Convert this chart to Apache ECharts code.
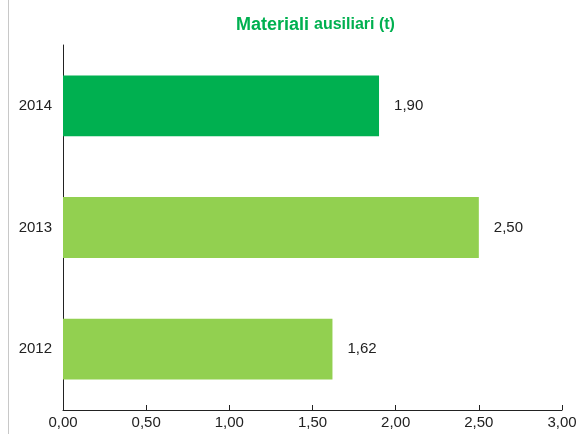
<!DOCTYPE html>
<html>
<head>
<meta charset="UTF-8">
<title>Materiali ausiliari</title>
<script src="https://cdn.jsdelivr.net/npm/echarts@6/dist/echarts.min.js"></script>
<style>
	html, body { margin: 0; padding: 0; background: #fff; }
	#main { width: 581px; height: 434px; }
</style>
</head>
<body>
<div id="main"></div>
<script>
	// dati
	var anni = ['2012', '2013', '2014'];
	var valori = [1.62, 2.50, 1.90];
	var colori = ['#92d050', '#92d050', '#00b050'];

	function virgola(v) {
		return v.toFixed(2).replace('.', ',');
	}

	var chart = echarts.init(document.getElementById('main'));
	var option = {
		animation: false,
		title: {
			text: '{a|Materiali} {b|ausiliari (t)}',
			left: 231,
			top: 11,
			textStyle: {
				rich: {
					a: { fontFamily: 'Liberation Sans, Arial', fontWeight: 'bold', fontSize: 18, color: '#00b050' },
					b: { fontFamily: 'Liberation Sans, Arial', fontWeight: 'bold', fontSize: 16, color: '#00b050' }
				}
			}
		},
		graphic: [{
			type: 'line',
			shape: { x1: 8.5, y1: 0, x2: 8.5, y2: 434 },
			style: { stroke: '#c8c8c8', lineWidth: 1 }
		}],
		grid: { left: 63, right: 19, top: 45, bottom: 24 },
		xAxis: {
			type: 'value',
			min: 0,
			max: 3,
			interval: 0.5,
			axisLine: { show: true, lineStyle: { color: '#222', width: 1 } },
			axisTick: { show: true, inside: true, length: 5, lineStyle: { color: '#222' } },
			splitLine: { show: false },
			axisLabel: {
				formatter: virgola,
				color: '#222',
				fontFamily: 'Liberation Sans, Arial',
				fontSize: 15,
				margin: 5
			}
		},
		yAxis: {
			type: 'category',
			data: anni,
			axisLine: { show: true, lineStyle: { color: '#222', width: 1 } },
			axisTick: { show: false },
			axisLabel: {
				color: '#222',
				fontFamily: 'Liberation Sans, Arial',
				fontSize: 15,
				margin: 11
			}
		},
		series: [{
			type: 'bar',
			barWidth: '50%',
			data: valori.map(function (v, i) {
				return { value: v, itemStyle: { color: colori[i] } };
			}),
			label: {
				show: true,
				position: 'right',
				distance: 15,
				color: '#222',
				fontFamily: 'Liberation Sans, Arial',
				fontSize: 15,
				formatter: function (p) { return virgola(p.value); }
			}
		}]
	};
	chart.setOption(option);
</script>
</body>
</html>
